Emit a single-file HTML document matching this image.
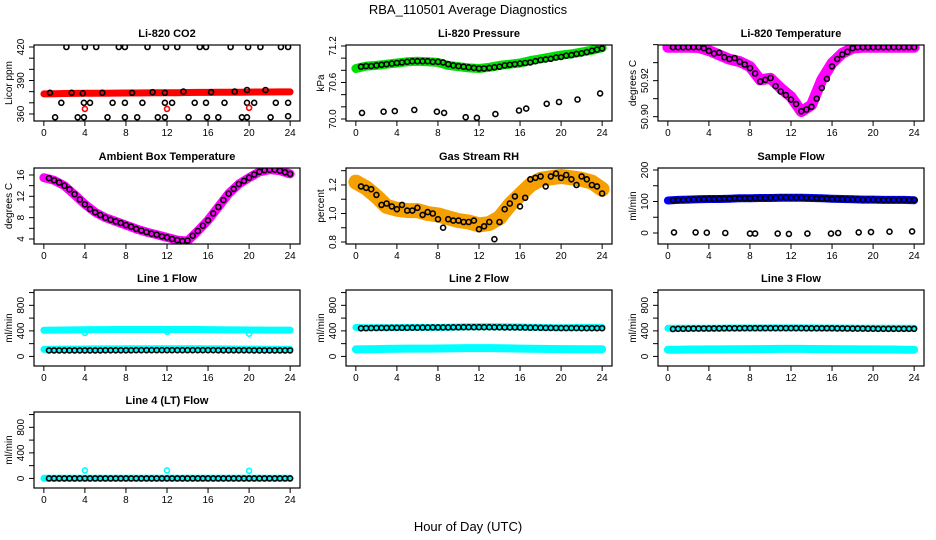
<!DOCTYPE html>
<html><head><meta charset="utf-8"><title>RBA_110501 Average Diagnostics</title>
<style>
html,body{margin:0;padding:0;background:#fff;}
svg{display:block;font-family:"Liberation Sans",Arial,sans-serif;}
</style></head>
<body>
<svg id="chart" width="936" height="540" viewBox="0 0 936 540" xmlns="http://www.w3.org/2000/svg">
<rect x="0" y="0" width="936" height="540" fill="#fff"/>
<text x="468" y="14" text-anchor="middle" font-size="13">RBA_110501  Average Diagnostics</text>
<text x="468" y="531" text-anchor="middle" font-size="13">Hour of Day (UTC)</text>
</svg>
<script>
// ---------- shared data ----------
const bandHours = [0,1,2,3,4,5,6,7,8,9,10,11,12,13,14,15,16,17,18,19,20,21,22,23,24];
const dotHours = [0.5,1,1.5,2,2.5,3,3.5,4,4.5,5,5.5,6,6.5,7,7.5,8,8.5,9,9.5,10,10.5,11,11.5,12,12.5,13,13.5,14,14.5,15,15.5,16,16.5,17,17.5,18,18.5,19,19.5,20,20.5,21,21.5,22,22.5,23,23.5,24];
const xTicks = [0,4,8,12,16,20,24];

// CO2
const co2Band = [378,378.2,378.3,378.4,378.5,378.6,378.6,378.7,378.8,378.8,378.9,379,379,379.1,379.2,379.3,379.3,379.4,379.5,379.5,379.6,379.7,379.7,379.8,379.8];
const co2DotH = [0.6,2.7,3.8,5.7,8.6,10.6,11.8,13.6,16.3,18.6,19.8,21.6, 1.7,3.9,4.5,6.7,7.9,9.6,11.8,12.5,14.7,15.8,17.6,19.8,20.5,22.6,23.8, 2.2,4,5.1,7.3,7.9,10.1,11.9,13,15.2,15.8,18.2,19.9,21.1,23.1,23.8, 1.1,3.3,3.9,6.2,7.9,9.1,11.1,11.8,14.1,15.9,17,19.3,19.8,22.1,23.8];
const co2DotV = [379,379,378.5,379,379,379.5,379,380,379.5,380,381.5,381.5, 370,370,370,370,370,370,370,370,370,370,370,370,370,370,370, 420,420,420,420,420,420,420,420,420,420,420,420,420,420,420, 357,357,357,357,357,357,357,357,357,357,357,357,357,357,358];
const co2RedH = [4,12,20];
const co2RedV = [364.5,364.5,365.5];

// Pressure
const presBand = [70.83,70.87,70.88,70.9,70.92,70.94,70.95,70.94,70.93,70.88,70.86,70.84,70.83,70.85,70.88,70.9,70.92,70.96,70.99,71.02,71.05,71.07,71.1,71.13,71.17];
const presDot = [70.86,70.87,70.87,70.88,70.89,70.9,70.91,70.92,70.93,70.94,70.95,70.95,70.95,70.95,70.94,70.94,70.93,70.9,70.88,70.87,70.86,70.85,70.84,70.83,70.83,70.84,70.85,70.86,70.88,70.89,70.9,70.91,70.92,70.93,70.95,70.97,70.98,70.99,71.01,71.02,71.04,71.05,71.07,71.08,71.1,71.12,71.14,71.16];
const presOutH = [0.6,2.7,3.8,5.7,7.9,8.6,10.7,11.8,13.6,15.9,16.6,18.6,19.8,21.6,23.8];
const presOutV = [70.1,70.12,70.13,70.15,70.12,70.1,70.03,70.02,70.08,70.14,70.17,70.25,70.28,70.32,70.42];

// Li-820 temperature
const tempBand = [50.9386,50.9386,50.9386,50.9384,50.9367,50.9343,50.9319,50.9306,50.9278,50.9204,50.9213,50.9158,50.9111,50.9028,50.9065,50.9204,50.9297,50.9352,50.938,50.9386,50.9386,50.9386,50.9386,50.9386,50.9386];
const tempDot = [50.9386,50.9386,50.9386,50.9386,50.9386,50.9386,50.938,50.9365,50.935,50.9355,50.933,50.932,50.9325,50.9305,50.929,50.927,50.924,50.9195,50.9205,50.9215,50.917,50.914,50.912,50.9095,50.907,50.903,50.904,50.9055,50.91,50.916,50.921,50.928,50.932,50.9345,50.936,50.938,50.9386,50.9386,50.9386,50.9386,50.9386,50.9386,50.9386,50.9386,50.9386,50.9386,50.9386,50.9386];

// Ambient box temperature
const ambBand = [15.5,15,14,12.3,10.5,9,8,7.3,6.6,5.9,5.3,4.8,4.3,3.8,3.6,5.5,7.5,10,12.5,14.3,15.5,16.6,17,16.8,16.2];
const ambDot = [15.4,15,14.6,14,13.3,12.4,11.4,10.5,9.6,9,8.5,8,7.6,7.3,7,6.6,6.3,5.9,5.6,5.3,5,4.8,4.5,4.3,4,3.8,3.6,3.7,4.6,5.5,6.5,7.5,8.8,10,11.3,12.5,13.4,14.3,14.9,15.5,16.1,16.6,16.9,17,17,16.8,16.5,16.2];

// Gas stream RH
const rhBand = [1.22,1.18,1.12,1.05,1.03,1.02,1.02,1.0,0.99,0.97,0.95,0.94,0.92,0.93,0.97,1.06,1.13,1.2,1.24,1.25,1.26,1.25,1.24,1.22,1.17];
const rhDot = [1.19,1.18,1.17,1.13,1.06,1.07,1.05,1.03,1.06,1.02,1.02,1.04,0.99,1.01,1.0,0.96,0.9,0.96,0.95,0.95,0.94,0.94,0.95,0.89,0.91,0.94,0.82,0.94,1.03,1.07,1.12,1.05,1.11,1.24,1.25,1.26,1.19,1.26,1.28,1.25,1.27,1.24,1.2,1.26,1.24,1.2,1.19,1.14];

// Sample flow
const sfBand = [103,105,106,107,108,108,109,110,110,111,111,112,112,112,111,110,109,108,107,106,106,105,105,105,104];
const sfDot = [104,105,105,106,107,107,108,108,108,109,109,109,110,110,110,110,111,111,111,112,112,113,113,112,112,112,111,111,110,109,109,108,108,108,107,107,107,106,106,106,105,105,105,105,105,105,105,105];
const sfOutH = [0.6,2.7,3.8,5.6,8,8.5,10.7,11.8,13.6,15.9,16.6,18.6,19.8,21.6,23.8];
const sfOutV = [2,2,1,0,-2,-2,-2,-3,-2,-2,0,2,3,4,5];

// Line flows
const l1High = [410,412,414,416,418,420,420,421,421,421,421,421,421,421,421,421,420,418,416,415,414,413,412,412,412];
const l1Low = [110,112,114,115,116,117,118,118,119,119,120,120,120,120,119,119,118,117,116,115,115,114,113,112,112];
const l1Dot = [95,95,95,95,95,95,95,95,95,95,95,96,96,96,96,96,96,97,97,97,97,97,98,98,98,98,98,98,98,98,97,97,97,96,96,96,96,96,96,96,95,95,95,95,95,95,95,95];
const l1OutH = [4,12,20];
const l1OutV = [370,385,355];
const l2High = [455,450,452,452,452,455,455,455,455,458,460,462,465,465,465,462,460,458,455,452,450,452,455,455,455];
const l2Low = [110,112,115,118,120,122,122,122,124,126,128,130,130,130,128,126,122,120,118,116,115,114,113,112,112];
const l2Dot = [440,442,444,445,446,447,448,448,448,448,450,450,452,452,454,455,455,455,456,456,458,458,458,458,458,458,456,456,455,455,454,453,452,450,450,448,447,446,445,444,444,443,443,442,442,442,442,442];
const l3High = [440,440,440,440,442,442,445,445,445,445,446,446,446,446,446,445,445,444,444,442,440,440,440,440,440];
const l3Low = [105,106,108,108,110,110,112,112,114,115,116,118,118,118,116,115,114,112,112,110,110,108,108,106,106];
const l3Dot = [430,432,433,434,435,436,437,437,438,438,440,440,441,441,442,442,442,442,442,442,442,442,442,442,442,442,441,441,440,440,440,440,439,438,437,436,436,435,434,434,433,433,432,432,432,432,432,432];
const l4Band = [2,2,2,2,2,2,2,2,2,2,2,2,2,2,2,2,2,2,2,2,2,2,2,2,2];
const l4Dot = [0,0,0,0,0,0,0,0,0,0,0,0,0,0,0,0,0,0,0,0,0,0,0,0,0,0,0,0,0,0,0,0,0,0,0,0,0,0,0,0,0,0,0,0,0,0,0,0];
const l4OutH = [4,12,20];
const l4OutV = [125,125,120];

// y ticks / labels
const co2Ticks = [360,370,380,390,400,410,420];
const co2Labels = ["360","390","420"];
const presTicks = [70.0,70.2,70.4,70.6,70.8,71.0,71.2];
const presLabels = ["70.0","70.6","71.2"];
const tempTicks = [50.90,50.91,50.92,50.93,50.94];
const tempLabels = ["50.90","50.92"];
const ambTicks = [4,6,8,10,12,14,16];
const ambLabels = ["4","8","12","16"];
const rhTicks = [0.8,0.9,1.0,1.1,1.2,1.3];
const rhLabels = ["0.8","1.0","1.2"];
const sfTicks = [0,50,100,150,200];
const sfLabels = ["0","100","200"];
const flowTicks = [0,200,400,600,800,1000];
const flowLabels = ["0","400","800"];

// ---------- drawing ----------
const NS = "http://www.w3.org/2000/svg";
const svg = document.getElementById("chart");
const colLeft = [34, 346, 658];
const rowTop = [45, 168, 290, 412];
const PW = 266, PH = 76;

function mk(tag, attrs, parent) {
  const e = document.createElementNS(NS, tag);
  for (const k in attrs) e.setAttribute(k, attrs[k]);
  (parent || svg).appendChild(e);
  return e;
}

function makePanel(name, title, yTitle, col, row, ymin, ymax, yTicks, yLabels) {
  const L = colLeft[col], T = rowTop[row];
  const g = mk("g", {});
  
  
  const xs = h => L + (h + 0.96) / 25.92 * PW;
  const ys = v => T + PH - (v - ymin) / (ymax - ymin) * PH;
  const t = mk("text", {x: L + PW / 2, y: T - 8, "text-anchor": "middle", "font-size": 11, "font-weight": "bold"}, g);
  t.textContent = title;
  
  
  // x axis
  const xa = mk("g", {stroke: "#000", "stroke-width": 1}, g);
  
  
  mk("line", {x1: xs(0), x2: xs(24), y1: T + PH, y2: T + PH}, xa);
  xTicks.forEach(v => {
    mk("line", {x1: xs(v), x2: xs(v), y1: T + PH, y2: T + PH + 5}, xa);
    const lb = mk("text", {x: xs(v), y: T + PH + 15, "text-anchor": "middle", "font-size": 10, stroke: "none", fill: "#000"}, xa);
    lb.textContent = String(v);
    
    
  });
  // y axis
  const ya = mk("g", {stroke: "#000", "stroke-width": 1}, g);
  
  
  mk("line", {x1: L, x2: L, y1: ys(yTicks[0]), y2: ys(yTicks[yTicks.length - 1])}, ya);
  yTicks.forEach(v => mk("line", {x1: L - 5, x2: L, y1: ys(v), y2: ys(v)}, ya));
  yLabels.forEach(s => {
    const v = parseFloat(s);
    const lb = mk("text", {x: 0, y: 0, transform: `translate(${L - 10},${ys(v)}) rotate(-90)`, "text-anchor": "middle", "font-size": 10, stroke: "none", fill: "#000"}, ya);
    lb.textContent = s;
    
    
  });
  const yt = mk("text", {x: 0, y: 0, transform: `translate(${L - 22},${T + PH / 2}) rotate(-90)`, "text-anchor": "middle", "font-size": 10}, g);
  yt.textContent = yTitle;
  
  
  // plot clip
  const cid = "clip-" + name;
  const cp = mk("clipPath", {id: cid}, g);
  mk("rect", {x: L, y: T, width: PW, height: PH}, cp);
  const plot = mk("g", {"clip-path": `url(#${cid})`}, g);
  
  
  const box = mk("rect", {x: L, y: T, width: PW, height: PH, fill: "none", stroke: "#000", "stroke-width": 1.2}, g);
  
  
  return {plot, xs, ys, box};
}

function band(p, hours, vals, color, width, name) {
  const pts = hours.map((h, i) => p.xs(h).toFixed(1) + "," + p.ys(vals[i]).toFixed(1)).join(" ");
  const pl = mk("polyline", {points: pts, fill: "none", stroke: color, "stroke-width": width, "stroke-linejoin": "round", "stroke-linecap": "round"}, p.plot);
  
  
}

function dots(p, hours, vals, color, name) {
  hours.forEach((h, i) => {
    const c = mk("circle", {cx: p.xs(h).toFixed(1), cy: p.ys(vals[i]).toFixed(1), r: 2.5, fill: "none", stroke: color, "stroke-width": 1.6}, p.plot);
    
    
  });
}

// CO2
let p = makePanel("co2", "Li-820 CO2", "Licor ppm", 0, 0, 353.7, 421.8, co2Ticks, co2Labels);
band(p, bandHours, co2Band, "#ff0000", 7, "co2-band");
dots(p, co2DotH, co2DotV, "#000", "co2-point");
dots(p, co2RedH, co2RedV, "#ff0000", "co2-red-point");

// Pressure
p = makePanel("pressure", "Li-820 Pressure", "kPa", 1, 0, 69.967, 71.216, presTicks, presLabels);
band(p, bandHours, presBand, "#00e000", 9, "pressure-band");
dots(p, dotHours, presDot, "#000", "pressure-point");
dots(p, presOutH, presOutV, "#000", "pressure-outlier");

// Temperature
p = makePanel("li820-temp", "Li-820 Temperature", "degrees C", 2, 0, 50.8976, 50.9398, tempTicks, tempLabels);
band(p, bandHours, tempBand, "#ff00ff", 11, "li820-temp-band");
dots(p, dotHours, tempDot, "#000", "li820-temp-point");

// Ambient
p = makePanel("ambient", "Ambient Box Temperature", "degrees C", 0, 1, 3.06, 17.31, ambTicks, ambLabels);
band(p, bandHours, ambBand, "#ff00ff", 9, "ambient-band");
dots(p, dotHours, ambDot, "#000", "ambient-point");

// RH
p = makePanel("rh", "Gas Stream RH", "percent", 1, 1, 0.786, 1.319, rhTicks, rhLabels);
band(p, bandHours, rhBand, "#f5a000", 15, "rh-band");
dots(p, dotHours, rhDot, "#000", "rh-point");

// Sample flow
p = makePanel("sample-flow", "Sample Flow", "ml/min", 2, 1, -34.9, 206.3, sfTicks, sfLabels);
band(p, bandHours, sfBand, "#0000ff", 8, "sample-flow-band");
dots(p, dotHours, sfDot, "#000", "sample-flow-point");
dots(p, sfOutH, sfOutV, "#000", "sample-flow-outlier");

// Line flows
const FMIN = -150, FMAX = 1040;
p = makePanel("line1", "Line 1 Flow", "ml/min", 0, 2, FMIN, FMAX, flowTicks, flowLabels);
band(p, bandHours, l1High, "#00ffff", 7, "line1-high-band");
band(p, bandHours, l1Low, "#00ffff", 7, "line1-low-band");
dots(p, l1OutH, l1OutV, "#00ffff", "line1-outlier");
dots(p, dotHours, l1Dot, "#000", "line1-point");

p = makePanel("line2", "Line 2 Flow", "ml/min", 1, 2, FMIN, FMAX, flowTicks, flowLabels);
band(p, bandHours, l2High, "#00ffff", 7, "line2-high-band");
band(p, bandHours, l2Low, "#00ffff", 8, "line2-low-band");
dots(p, dotHours, l2Dot, "#000", "line2-point");

p = makePanel("line3", "Line 3 Flow", "ml/min", 2, 2, FMIN, FMAX, flowTicks, flowLabels);
band(p, bandHours, l3High, "#00ffff", 7, "line3-high-band");
band(p, bandHours, l3Low, "#00ffff", 8, "line3-low-band");
dots(p, dotHours, l3Dot, "#000", "line3-point");

p = makePanel("line4", "Line 4 (LT) Flow", "ml/min", 0, 3, FMIN, FMAX, flowTicks, flowLabels);
band(p, bandHours, l4Band, "#00ffff", 7, "line4-band");
dots(p, dotHours, l4Dot, "#000", "line4-point");
dots(p, l4OutH, l4OutV, "#00ffff", "line4-outlier");
</script>
</body></html>
